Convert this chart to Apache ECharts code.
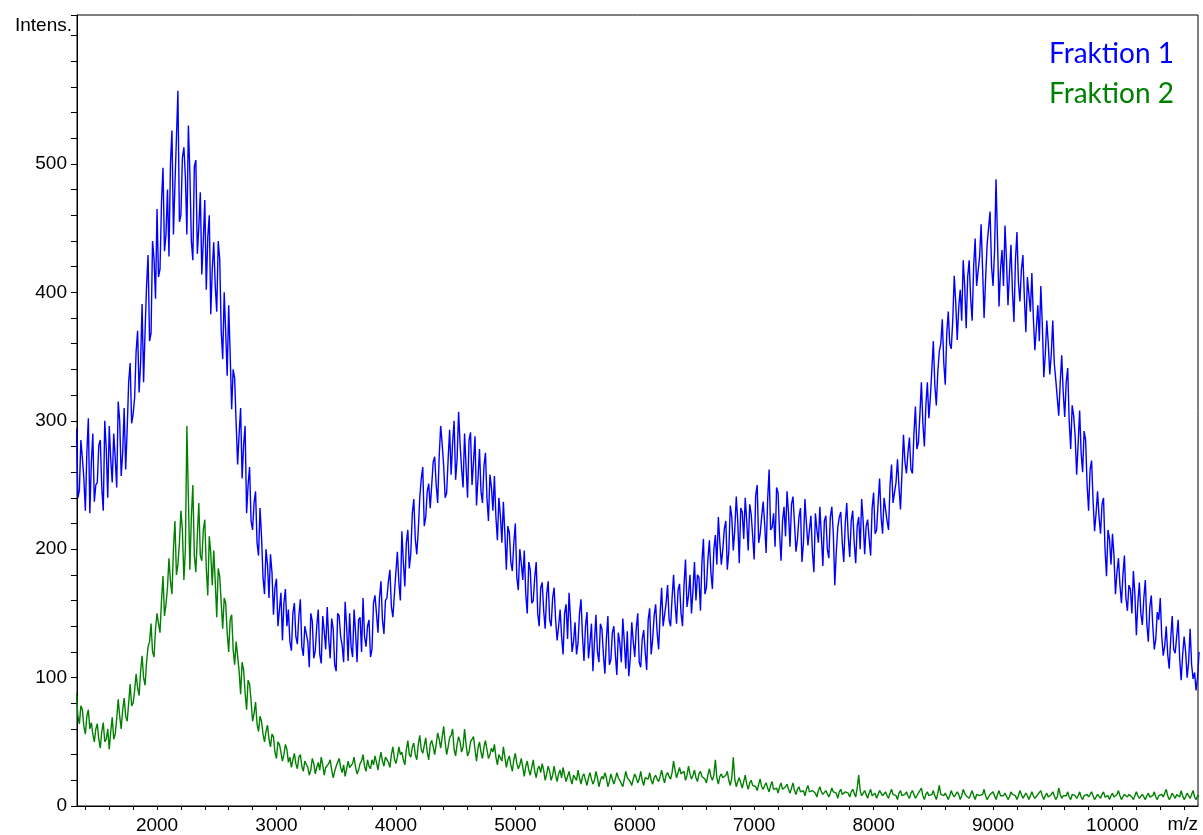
<!DOCTYPE html>
<html>
<head>
<meta charset="utf-8">
<script src="https://cdn.jsdelivr.net/npm/echarts@6/dist/echarts.min.js"></script>
<style>
  html, body { margin: 0; padding: 0; background: #fff; }
  #chart { width: 1203px; height: 835px; }
</style>
</head>
<body>
<div id="chart"></div>
<script>
// spectrum sampled every 25 m/z from 1325, plus the half-step samples in between
var mzStart = 1325
var mzStep = 25

// Fraktion 1 (blue), at 1325, 1350, ...
var fraktion1 = [
  294, 246, 271, 230, 302, 267, 237, 252, 285, 230, 278, 296, 252, 271, 315, 257, 310, 293, 345, 305,
  354, 322, 391, 370, 429, 368, 426, 465, 418, 497, 445, 428, 526, 484, 557, 460, 513, 445, 493, 425,
  503, 451, 414, 472, 443, 383, 439, 385, 426, 348, 369, 390, 309, 333, 266, 310, 281, 228, 264, 215,
  245, 195, 210, 165, 188, 196, 149, 177, 153, 129, 169, 153, 121, 158, 126, 161, 117, 139, 108, 144,
  121, 153, 111, 136, 155, 115, 138, 105, 148, 125, 159, 113, 124, 153, 112, 147, 162, 124, 145, 122,
  164, 135, 175, 134, 162, 184, 147, 182, 174, 214, 171, 215, 197, 239, 196, 240, 264, 225, 251, 232,
  272, 236, 296, 265, 244, 293, 283, 254, 307, 263, 290, 240, 291, 268, 234, 278, 236, 275, 222, 248,
  257, 207, 226, 237, 184, 213, 183, 220, 168, 189, 199, 150, 184, 160, 190, 140, 174, 138, 175, 140,
  170, 129, 153, 118, 157, 166, 120, 143, 127, 161, 113, 151, 127, 105, 149, 112, 138, 103, 148, 114,
  140, 102, 127, 146, 107, 101, 143, 116, 150, 108, 137, 106, 154, 130, 157, 122, 170, 139, 172, 140,
  180, 142, 173, 140, 192, 164, 150, 190, 180, 152, 208, 170, 207, 169, 211, 225, 188, 216, 184, 234,
  199, 241, 189, 229, 240, 199, 227, 192, 250, 212, 237, 197, 262, 217, 202, 244, 191, 233, 245, 202,
  241, 198, 225, 190, 239, 203, 226, 182, 215, 233, 187, 226, 193, 233, 172, 217, 229, 190, 236, 194,
  230, 189, 225, 239, 196, 223, 195, 244, 215, 255, 212, 240, 215, 266, 236, 270, 231, 289, 259, 287,
  259, 311, 283, 330, 280, 330, 318, 362, 312, 354, 379, 328, 385, 356, 413, 363, 402, 425, 372, 425,
  378, 442, 405, 453, 380, 437, 463, 405, 488, 389, 433, 452, 390, 437, 377, 447, 393, 429, 369, 413,
  415, 355, 390, 405, 334, 378, 336, 378, 332, 304, 351, 303, 341, 278, 304, 258, 308, 260, 285, 230,
  269, 214, 245, 212, 240, 179, 208, 212, 165, 193, 158, 195, 152, 169, 183, 133, 174, 141, 176, 128,
  164, 122, 151, 162, 117, 140, 107, 148, 119, 145, 98, 132, 100, 138, 99, 90, 120
]
// Fraktion 1, at 1337.5, 1362.5, ...
var fraktion1Mid = [
  240, 285, 255, 275, 228, 290, 250, 281, 248, 300, 240, 270, 290, 248, 300, 275, 262, 330, 298, 318,
  370, 345, 330, 405, 362, 440, 395, 412, 470, 432, 480, 500, 445, 520, 455, 505, 490, 530, 440, 498,
  430, 478, 440, 402, 460, 418, 405, 440, 370, 400, 335, 352, 340, 298, 290, 255, 296, 250, 222, 236,
  205, 232, 178, 200, 162, 182, 170, 140, 166, 158, 140, 128, 150, 132, 148, 124, 140, 128, 150, 115,
  140, 118, 148, 122, 130, 146, 110, 150, 132, 112, 140, 150, 116, 135, 145, 120, 132, 140, 116, 158,
  150, 162, 145, 160, 175, 155, 165, 198, 160, 190, 205, 185, 228, 208, 215, 255, 218, 245, 232, 268,
  250, 272, 282, 240, 270, 258, 300, 270, 282, 248, 265, 285, 250, 288, 255, 245, 265, 240, 258, 230,
  225, 240, 205, 212, 218, 190, 205, 178, 200, 176, 165, 190, 158, 178, 150, 170, 152, 165, 145, 162,
  145, 140, 132, 150, 130, 145, 128, 118, 150, 132, 140, 115, 142, 128, 120, 142, 118, 130, 110, 135,
  118, 135, 112, 128, 136, 115, 128, 138, 112, 130, 120, 145, 118, 148, 135, 150, 140, 158, 145, 162,
  158, 168, 150, 172, 155, 180, 168, 160, 178, 190, 165, 192, 182, 200, 188, 205, 200, 222, 198, 225,
  215, 222, 232, 208, 222, 235, 210, 242, 205, 225, 220, 238, 215, 228, 248, 212, 222, 210, 228, 235,
  220, 208, 232, 205, 220, 215, 198, 228, 205, 210, 222, 200, 225, 212, 198, 225, 205, 220, 210, 222,
  205, 218, 200, 222, 218, 208, 232, 212, 236, 225, 240, 222, 250, 236, 252, 248, 260, 268, 275, 262,
  290, 278, 305, 298, 312, 302, 340, 328, 338, 360, 345, 368, 360, 378, 392, 388, 378, 405, 412, 395,
  420, 405, 428, 418, 410, 450, 420, 432, 440, 418, 405, 425, 415, 400, 425, 408, 418, 395, 412, 385,
  380, 372, 362, 375, 352, 360, 352, 345, 318, 330, 322, 330, 300, 312, 288, 282, 275, 292, 250, 262,
  238, 228, 225, 235, 200, 215, 188, 195, 182, 172, 180, 162, 172, 150, 165, 158, 150, 162, 142, 155,
  140, 130, 145, 132, 125, 118, 130, 122, 132, 115, 118, 120, 112, 110, 104, 100
]

// Fraktion 2 (green), at 1325, 1350, ...
var fraktion2 = [
  88, 64, 75, 56, 75, 65, 50, 64, 45, 65, 52, 44, 69, 56, 83, 60, 84, 66, 95, 80,
  103, 86, 117, 94, 124, 142, 116, 150, 135, 179, 157, 193, 165, 222, 188, 230, 176, 296, 184, 250,
  182, 236, 191, 223, 164, 197, 199, 147, 179, 138, 158, 120, 149, 110, 129, 87, 106, 75, 95, 66,
  81, 58, 66, 50, 63, 46, 54, 37, 48, 35, 48, 34, 30, 41, 29, 40, 27, 36, 24, 37,
  25, 34, 38, 24, 29, 36, 22, 31, 37, 26, 23, 35, 30, 38, 25, 33, 40, 27, 31, 36,
  39, 28, 42, 31, 39, 30, 46, 33, 46, 42, 32, 51, 38, 49, 36, 55, 41, 53, 36, 51,
  40, 57, 45, 62, 40, 53, 60, 39, 54, 42, 60, 39, 50, 54, 35, 50, 37, 51, 37, 45,
  48, 32, 41, 46, 30, 39, 27, 41, 29, 37, 23, 35, 24, 36, 22, 31, 33, 20, 31, 20,
  31, 19, 28, 30, 19, 27, 17, 25, 28, 17, 25, 16, 26, 17, 27, 15, 23, 26, 15, 25,
  17, 26, 20, 15, 27, 22, 16, 25, 18, 27, 16, 22, 26, 17, 24, 19, 28, 18, 26, 21,
  35, 22, 30, 24, 20, 31, 21, 28, 19, 27, 22, 18, 29, 20, 36, 17, 25, 21, 27, 16,
  38, 15, 22, 14, 24, 13, 20, 16, 12, 21, 13, 18, 11, 19, 14, 10, 18, 12, 17, 10,
  18, 9, 15, 11, 8, 16, 10, 13, 7, 15, 9, 12, 7, 14, 10, 6, 13, 9, 12, 7,
  13, 7, 24, 8, 12, 6, 13, 9, 6, 12, 8, 11, 6, 13, 8, 5, 12, 9, 11, 6,
  12, 6, 10, 14, 5, 11, 7, 12, 5, 16, 8, 10, 5, 12, 7, 11, 5, 13, 8, 6,
  12, 5, 10, 7, 13, 5, 9, 11, 5, 12, 7, 10, 5, 11, 8, 5, 12, 6, 10, 5,
  11, 6, 9, 12, 5, 10, 7, 11, 5, 14, 6, 9, 11, 5, 10, 6, 11, 5, 9, 7,
  11, 5, 9, 6, 11, 8, 5, 10, 6, 12, 5, 9, 7, 10, 5, 11, 6, 9, 5, 10,
  6, 11, 5, 9, 7, 13, 5, 10, 6, 9, 12, 5, 10, 6, 12, 5, 8
]
// Fraktion 2, at 1337.5, 1362.5, ...
var fraktion2Mid = [
  70, 78, 62, 70, 60, 56, 60, 52, 58, 50, 60, 58, 52, 68, 70, 75, 70, 80, 78, 90,
  92, 105, 100, 112, 128, 120, 138, 142, 160, 148, 170, 175, 200, 180, 205, 215, 200, 240, 225, 195,
  210, 195, 215, 185, 210, 172, 175, 185, 158, 162, 135, 145, 122, 128, 105, 112, 88, 98, 82, 72,
  64, 70, 56, 58, 52, 56, 42, 50, 42, 40, 44, 38, 36, 33, 38, 31, 35, 30, 28, 33,
  30, 28, 32, 30, 33, 28, 27, 34, 30, 32, 29, 30, 33, 30, 28, 35, 31, 36, 29, 32,
  34, 36, 35, 38, 34, 40, 37, 38, 40, 36, 44, 40, 46, 40, 48, 44, 47, 42, 48, 46,
  48, 52, 46, 50, 46, 55, 44, 48, 50, 46, 48, 42, 50, 44, 45, 42, 46, 44, 40, 42,
  38, 40, 35, 38, 36, 32, 36, 33, 32, 30, 31, 28, 30, 27, 29, 26, 28, 25, 27, 24,
  24, 25, 22, 24, 23, 21, 24, 20, 22, 23, 20, 22, 21, 20, 22, 20, 21, 22, 19, 21,
  21, 22, 20, 21, 22, 19, 21, 22, 21, 20, 22, 21, 20, 22, 21, 23, 22, 24, 23, 26,
  28, 26, 25, 27, 24, 25, 24, 22, 25, 23, 21, 24, 23, 24, 22, 23, 22, 24, 20, 22,
  21, 19, 18, 19, 17, 18, 16, 15, 17, 15, 16, 14, 16, 13, 14, 15, 13, 15, 13, 14,
  12, 13, 11, 12, 13, 11, 12, 10, 12, 11, 10, 11, 10, 11, 10, 11, 9, 11, 10, 11,
  10, 14, 12, 10, 9, 10, 8, 10, 9, 10, 9, 8, 10, 9, 8, 10, 8, 9, 8, 10,
  9, 8, 10, 8, 9, 8, 9, 8, 10, 9, 8, 9, 8, 9, 8, 9, 8, 10, 7, 9,
  8, 9, 8, 9, 8, 7, 9, 8, 9, 8, 8, 9, 7, 9, 8, 8, 9, 7, 8, 8,
  8, 7, 9, 8, 8, 7, 9, 8, 7, 9, 8, 8, 7, 9, 8, 8, 7, 8, 9, 7,
  8, 7, 8, 9, 7, 8, 8, 7, 9, 8, 7, 8, 9, 7, 8, 8, 7, 8, 8, 7,
  8, 7, 8, 9, 7, 8, 7, 8, 9, 7, 8, 7, 8, 9, 7, 8
]

var xLabels = [2000, 3000, 4000, 5000, 6000, 7000, 8000, 9000, 10000]
var yLabels = [0, 100, 200, 300, 400, 500]
var xTicks = []
for (var t = 1400; t <= 10600; t += 200) xTicks.push(t)

// merge the grid samples and the half-step samples into [m/z, intensity] pairs
function pairs(values, mids) {
  var out = []
  values.forEach(function (v, i) {
    var mz = mzStart + i * mzStep
    out.push([mz, v])
    if (i < mids.length) out.push([mz + mzStep / 2, mids[i]])
  })
  return out
}

var chart = echarts.init(document.getElementById('chart'), null, { renderer: 'canvas' })
var option = {
  animation: false,
  backgroundColor: '#fff',
  grid: {
    left: 77,
    right: 5,
    top: 15,
    bottom: 25,
    show: true,
    borderColor: '#000',
    borderWidth: 1
  },
  legend: {
    orient: 'vertical',
    right: 24,
    top: 33,
    icon: 'none',
    itemWidth: 0,
    itemHeight: 0,
    itemGap: 8,
    selectedMode: false,
    textStyle: {
      fontFamily: 'Lato',
      fontSize: 28,
      lineHeight: 32
    },
    data: [
      { name: 'Fraktion 1', textStyle: { color: '#0000ff' } },
      { name: 'Fraktion 2', textStyle: { color: '#008000' } }
    ]
  },
  xAxis: {
    type: 'value',
    min: 1330,
    max: 10716,
    axisLine: { lineStyle: { color: '#000', width: 1 } },
    axisTick: {
      show: true,
      length: 4,
      customValues: xTicks,
      lineStyle: { color: '#000' }
    },
    axisLabel: {
      customValues: xLabels,
      color: '#000',
      fontFamily: 'Liberation Sans',
      fontSize: 19,
      margin: 10,
      formatter: function (v) { return String(v) }
    },
    splitLine: { show: false }
  },
  yAxis: {
    type: 'value',
    min: 0,
    max: 616,
    interval: 20,
    axisLine: { show: true, lineStyle: { color: '#000', width: 1 } },
    axisTick: { show: true, length: 6, lineStyle: { color: '#000' } },
    axisLabel: {
      color: '#000',
      fontFamily: 'Liberation Sans',
      fontSize: 19,
      margin: 10,
      formatter: function (v) {
        return yLabels.indexOf(v) >= 0 ? String(v) : ''
      }
    },
    splitLine: { show: false }
  },
  graphic: [
    {
      type: 'text',
      right: 1203 - 72,
      top: 16,
      style: {
        text: 'Intens.',
        fill: '#000',
        font: '19px "Liberation Sans"'
      }
    },
    {
      type: 'text',
      right: 5,
      top: 815,
      style: {
        text: 'm/z',
        fill: '#000',
        font: '19px "Liberation Sans"'
      }
    }
  ],
  series: [
    {
      name: 'Fraktion 1',
      type: 'line',
      showSymbol: false,
      sampling: null,
      lineStyle: { color: '#0000ff', width: 1.4 },
      itemStyle: { color: '#0000ff' },
      data: pairs(fraktion1, fraktion1Mid)
    },
    {
      name: 'Fraktion 2',
      type: 'line',
      showSymbol: false,
      sampling: null,
      lineStyle: { color: '#008000', width: 1.4 },
      itemStyle: { color: '#008000' },
      data: pairs(fraktion2, fraktion2Mid)
    }
  ]
}
chart.setOption(option)
</script>
</body>
</html>
